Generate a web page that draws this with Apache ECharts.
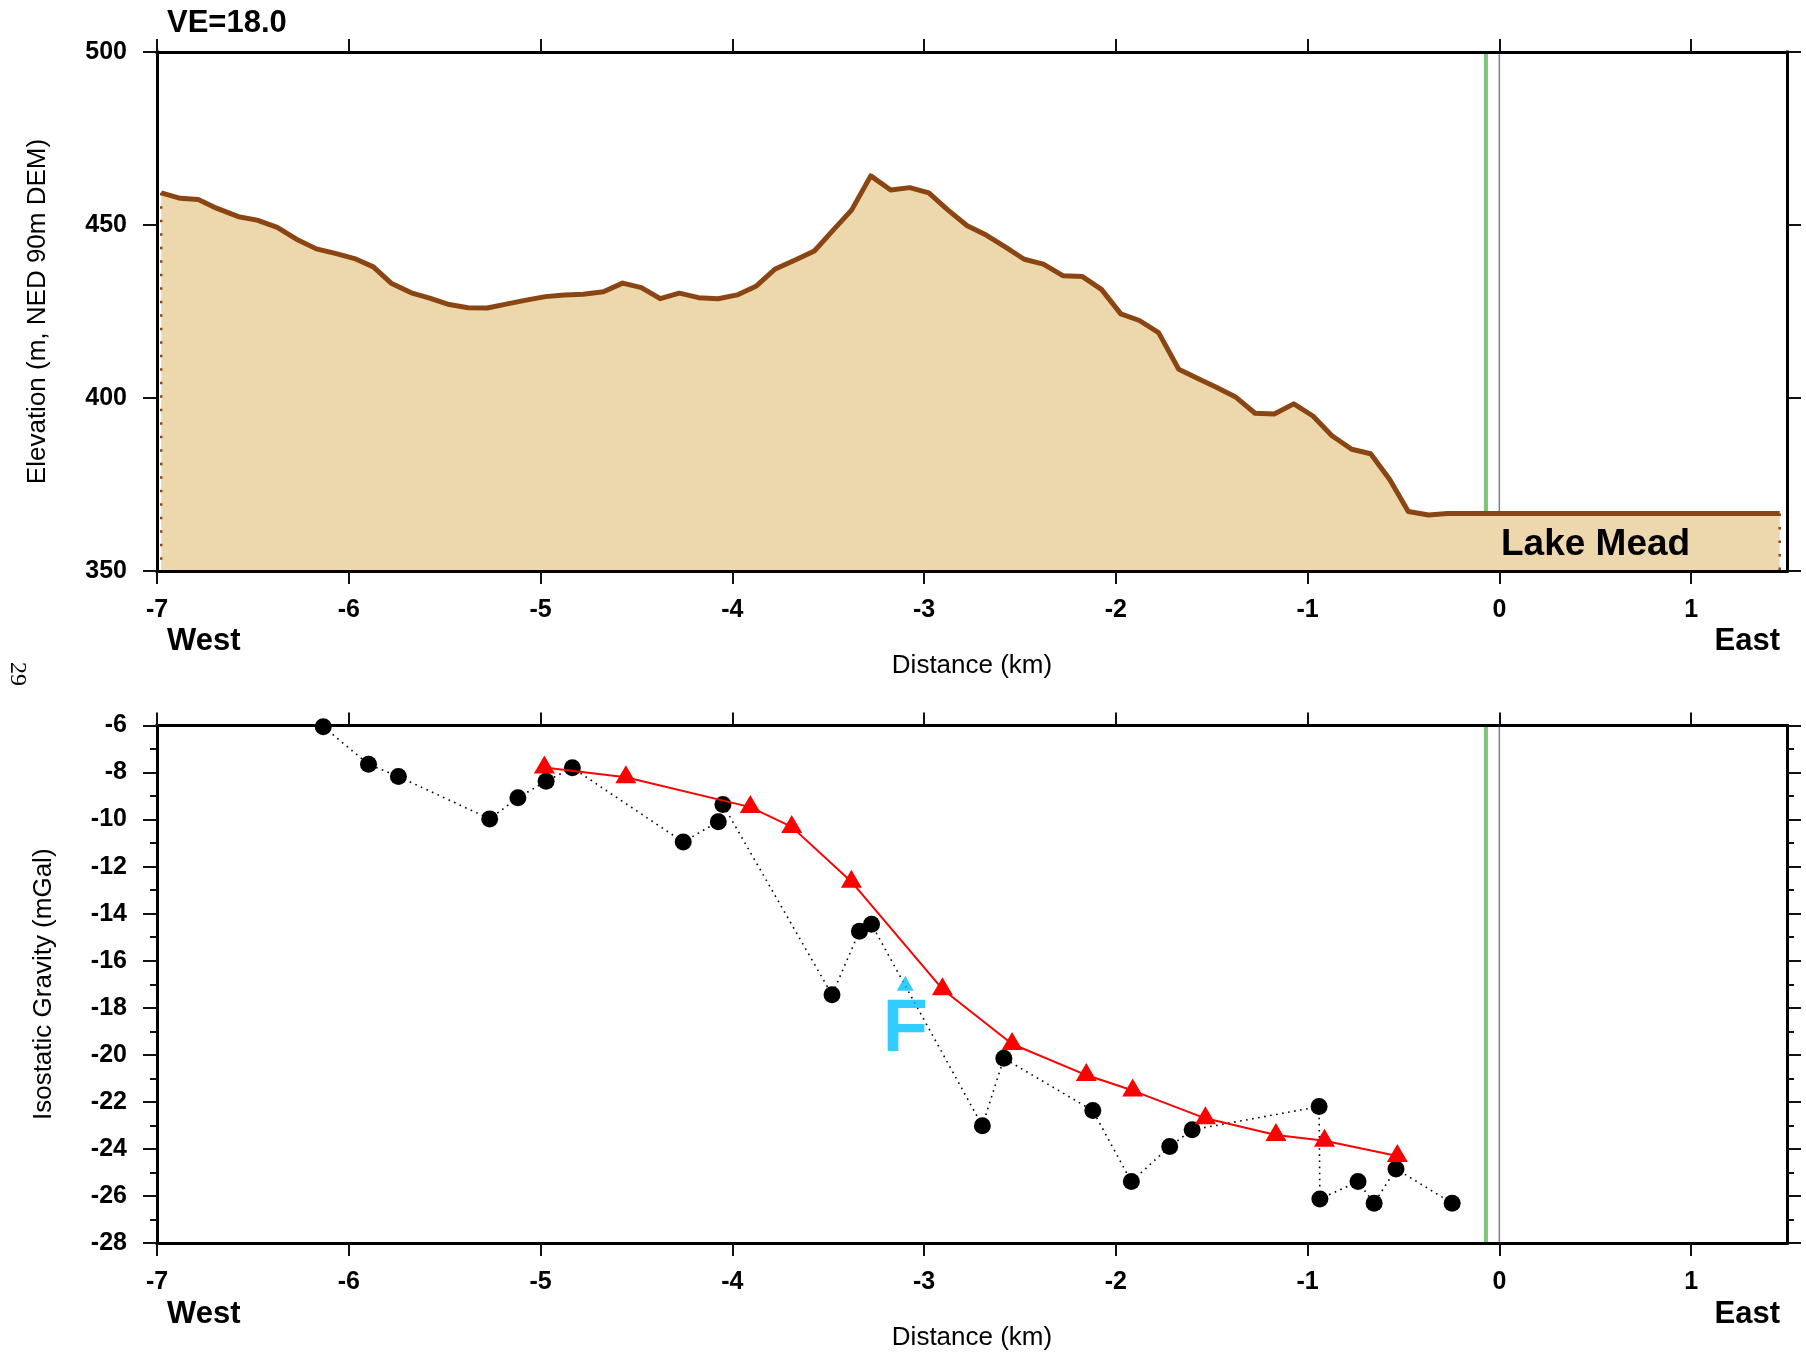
<!DOCTYPE html>
<html>
<head>
<meta charset="utf-8">
<title>Elevation and isostatic gravity profile</title>
<script src="https://cdn.jsdelivr.net/npm/echarts@6/dist/echarts.min.js"></script>
<style>
  html, body { margin: 0; padding: 0; background: #fff; }
  #chart { width: 1806px; height: 1354px; }
</style>
</head>
<body>
<div id="chart"></div>
<script>
// distance along profile (km) and DEM elevation (m)
const elevKm = [-6.978, -6.878, -6.785, -6.687, -6.575, -6.478, -6.373, -6.273, -6.169, -6.070,
  -5.970, -5.872, -5.779, -5.674, -5.574, -5.476, -5.378, -5.278, -5.173, -5.075,
  -4.975, -4.875, -4.777, -4.672, -4.572, -4.474, -4.376, -4.276, -4.176, -4.074,
  -3.974, -3.874, -3.776, -3.672, -3.572, -3.474, -3.378, -3.278, -3.174, -3.075,
  -2.975, -2.875, -2.775, -2.676, -2.575, -2.478, -2.378, -2.274, -2.174, -2.075,
  -1.974, -1.877, -1.777, -1.672, -1.575, -1.476, -1.373, -1.274, -1.174, -1.072,
  -0.972, -0.873, -0.770, -0.671, -0.571, -0.475, -0.369, -0.270, 1.462];
const elevM = [459.3, 457.7, 457.4, 454.8, 452.4, 451.4, 449.3, 445.9, 443.1, 441.8,
  440.3, 437.9, 433.2, 430.4, 428.8, 427.0, 426.1, 426.0, 427.2, 428.3,
  429.3, 429.8, 430.0, 430.7, 433.2, 431.9, 428.7, 430.3, 429.0, 428.7,
  429.8, 432.4, 437.3, 439.9, 442.5, 448.5, 454.3, 464.2, 460.1, 460.8,
  459.3, 454.3, 449.8, 447.1, 443.6, 440.1, 438.7, 435.3, 435.1, 431.4,
  424.3, 422.4, 418.9, 408.3, 405.7, 403.1, 400.2, 395.6, 395.4, 398.3,
  394.8, 389.1, 385.2, 383.9, 376.4, 367.2, 366.2, 366.6, 366.6];

// observed isostatic gravity stations (black dots)
const stationKm = [-6.133, -5.897, -5.741, -5.265, -5.118, -4.971, -4.834, -4.256, -4.073, -4.049,
  -3.480, -3.337, -3.274, -2.696, -2.584, -2.120, -1.919, -1.719, -1.602, -0.940,
  -0.936, -0.737, -0.653, -0.539, -0.246];
const stationMGal = [-6.05, -7.65, -8.17, -9.97, -9.07, -8.37, -7.80, -10.95, -10.09, -9.36,
  -17.45, -14.75, -14.45, -23.02, -20.15, -22.37, -25.39, -23.90, -23.19, -22.20,
  -26.13, -25.39, -26.31, -24.85, -26.31];

// smoothed / model gravity (red triangles)
const modelKm = [-4.980, -4.555, -3.906, -3.690, -3.379, -2.904, -2.541, -2.154, -1.912, -1.533,
  -1.165, -0.912, -0.532];
const modelMGal = [-7.79, -8.20, -9.47, -10.31, -12.64, -17.21, -19.54, -20.86, -21.52, -22.70,
  -23.41, -23.65, -24.30];

// fault F
const faultKm = [-3.098];
const faultMGal = [-16.96];

const kmTicks = [-7, -6, -5, -4, -3, -2, -1, 0, 1];
const greenKm = -0.07;
const zeroKm = 0;

const FONT = '"Liberation Sans", Arial, Helvetica, sans-serif';
const BROWN = '#8B4513';
const SAND = '#EDD8AD';

const zip = (xs, ys) => xs.map((x, i) => [x, ys[i]]);

function distanceAxes(gridIndex) {
  const common = {
    gridIndex,
    type: 'value',
    min: -7,
    max: 1.5,
    interval: 1,
    z: 10,
    splitLine: { show: false },
    axisLine: { show: true, onZero: false, lineStyle: { color: '#000', width: 3, cap: 'square' } },
    axisTick: { customValues: kmTicks, length: 13, lineStyle: { color: '#111', width: 2 } },
  };
  return [
    {
      ...common,
      position: 'bottom',
      axisLabel: {
        customValues: kmTicks, margin: 27, color: '#000',
        fontFamily: FONT, fontSize: 25, fontWeight: 'bold',
      },
      name: 'Distance (km)',
      nameLocation: 'middle',
      nameGap: 82,
      nameTextStyle: { fontFamily: FONT, fontSize: 26, color: '#000' },
    },
    { ...common, position: 'top', axisLabel: { show: false } },
  ];
}

function valueAxes(gridIndex, min, max, interval, name, nameGap, minor) {
  const common = {
    gridIndex,
    type: 'value',
    min,
    max,
    interval,
    z: 10,
    splitLine: { show: false },
    axisLine: { show: true, onZero: false, lineStyle: { color: '#000', width: 3, cap: 'square' } },
    axisTick: { length: 14, lineStyle: { color: '#111', width: 2 } },
    minorTick: { show: minor, splitNumber: 2, length: 7, lineStyle: { color: '#111', width: 2 } },
    minorSplitLine: { show: false },
  };
  return [
    {
      ...common,
      position: 'left',
      axisLabel: { margin: 30, color: '#000', fontFamily: FONT, fontSize: 25, fontWeight: 'bold' },
      name,
      nameLocation: 'middle',
      nameGap,
      nameTextStyle: { fontFamily: FONT, fontSize: 26, color: '#000' },
    },
    { ...common, position: 'right', axisLabel: { show: false } },
  ];
}

function label(text, x, y, size, opts = {}) {
  return {
    type: 'text',
    x,
    y,
    rotation: opts.rotation || 0,
    z: 100,
    style: {
      text,
      fill: opts.color || '#000',
      font: `${opts.weight || 'bold'} ${size}px ${opts.family || FONT}`,
      align: opts.align || 'left',
      verticalAlign: 'middle',
    },
  };
}

const chart = echarts.init(document.getElementById('chart'), null, { renderer: 'canvas' });

const vertical = (km, y0, y1) => [[km, y0], [km, y1]];

chart.setOption({
  backgroundColor: '#fff',
  animation: false,
  grid: [
    { left: 157, top: 52, width: 1630, height: 519 },
    { left: 157, top: 725.5, width: 1630, height: 517.5 },
  ],
  xAxis: [...distanceAxes(0), ...distanceAxes(1)],
  yAxis: [
    ...valueAxes(0, 350, 500, 50, 'Elevation (m, NED 90m DEM)', 106, false),
    ...valueAxes(1, -28, -6, 2, 'Isostatic Gravity (mGal)', 100, true),
  ],
  series: [
    // top panel
    {
      type: 'line', xAxisIndex: 0, yAxisIndex: 0, z: 1, symbol: 'none', silent: true,
      data: vertical(greenKm, 350, 500),
      lineStyle: { color: '#78C878', width: 4 },
    },
    {
      type: 'line', xAxisIndex: 0, yAxisIndex: 0, z: 1, symbol: 'none', silent: true,
      data: vertical(zeroKm, 350, 500),
      lineStyle: { color: '#808080', width: 1.5 },
    },
    {
      type: 'line', xAxisIndex: 0, yAxisIndex: 0, z: 3, symbol: 'none',
      data: zip(elevKm, elevM),
      lineStyle: { color: BROWN, width: 5, join: 'round' },
      areaStyle: { color: SAND, opacity: 1, origin: 'start' },
    },
    {
      type: 'line', xAxisIndex: 0, yAxisIndex: 0, z: 4, symbol: 'none', silent: true,
      data: vertical(elevKm[0], elevM[0], 350),
      lineStyle: { color: BROWN, width: 2.5, type: [2.5, 11] },
    },
    {
      type: 'line', xAxisIndex: 0, yAxisIndex: 0, z: 4, symbol: 'none', silent: true,
      data: vertical(elevKm[elevKm.length - 1], elevM[elevM.length - 1], 350),
      lineStyle: { color: BROWN, width: 2.5, type: [2.5, 11] },
    },
    // bottom panel
    {
      type: 'line', xAxisIndex: 2, yAxisIndex: 2, z: 1, symbol: 'none', silent: true,
      data: vertical(greenKm, -28, -6),
      lineStyle: { color: '#78C878', width: 4 },
    },
    {
      type: 'line', xAxisIndex: 2, yAxisIndex: 2, z: 1, symbol: 'none', silent: true,
      data: vertical(zeroKm, -28, -6),
      lineStyle: { color: '#808080', width: 1.5 },
    },
    {
      type: 'line', xAxisIndex: 2, yAxisIndex: 2, z: 3,
      data: zip(stationKm, stationMGal),
      symbol: 'circle', symbolSize: 17,
      itemStyle: { color: '#000' },
      lineStyle: { color: '#000', width: 1.6, type: [1.6, 4.5] },
    },
    {
      type: 'line', xAxisIndex: 2, yAxisIndex: 2, z: 4,
      data: zip(modelKm, modelMGal),
      symbol: 'triangle', symbolSize: [21, 18], symbolOffset: [0, -3],
      itemStyle: { color: '#FF0000' },
      lineStyle: { color: '#FF0000', width: 2 },
    },
    {
      type: 'scatter', xAxisIndex: 2, yAxisIndex: 2, z: 5,
      data: zip(faultKm, faultMGal),
      symbol: 'triangle', symbolSize: [17, 15],
      itemStyle: { color: '#00BFFF' },
      label: {
        show: true, position: 'bottom', distance: 0, offset: [0, 3],
        formatter: 'F', color: '#00BFFF', fontFamily: FONT, fontSize: 74, fontWeight: 'bold',
      },
    },
  ],
  graphic: [
    label('VE=18.0', 167, 23, 31),
    label('Lake Mead', 1501, 545, 37),
    label('West', 167, 641.5, 31),
    label('East', 1780, 641.5, 31, { align: 'right' }),
    label('West', 167, 1314, 31),
    label('East', 1780, 1314, 31, { align: 'right' }),
    label('29', 17, 674, 24, { weight: 'normal', family: '"Liberation Serif", "Times New Roman", serif', rotation: -Math.PI / 2, align: 'center' }),
  ],
});
</script>
</body>
</html>
